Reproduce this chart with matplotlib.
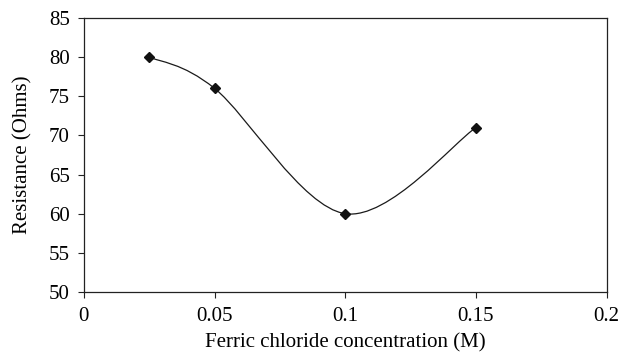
import numpy as np
import matplotlib
matplotlib.use('Agg')
import matplotlib.pyplot as plt
from matplotlib.path import Path
from matplotlib.patches import PathPatch

plt.rcParams['font.family'] = ['Liberation Serif', 'DejaVu Serif']

concentration = [0.025, 0.05, 0.1, 0.15]
resistance = [80, 76, 60, 71]
x_ticks = [0, 0.05, 0.1, 0.15, 0.2]
y_ticks = [50, 55, 60, 65, 70, 75, 80, 85]

fig = plt.figure(figsize=(6.21, 3.57), dpi=100)
ax = fig.add_axes([0.135, 0.182, 0.842, 0.768])

# smoothed line like a spreadsheet chart (Catmull-Rom as cubic Bezier)
pts = np.column_stack([concentration, resistance]).astype(float)
# work in axes units so smoothing follows screen shape
sx, sy = 0.2, 35.0
p = pts / [sx, sy]
verts = [p[0]]
codes = [Path.MOVETO]
n = len(p)
for i in range(n - 1):
    p0 = p[i - 1] if i > 0 else p[i]
    p1 = p[i]
    p2 = p[i + 1]
    p3 = p[i + 2] if i + 2 < n else p[i + 1]
    c1 = p1 + (p2 - p0) / 6
    c2 = p2 - (p3 - p1) / 6
    verts += [c1, c2, p2]
    codes += [Path.CURVE4] * 3
verts = np.array(verts) * [sx, sy]
ax.add_patch(PathPatch(Path(verts, codes), fill=False, edgecolor='#1a1a1a', lw=0.9))
ax.plot(concentration, resistance, linestyle='none', marker='D', markersize=5,
        color='#111111')

ax.set_xlim(0, 0.2)
ax.set_ylim(50, 85)
ax.set_xticks(x_ticks)
ax.set_xticklabels(['0', '0.05', '0.1', '0.15', '0.2'])
ax.set_yticks(y_ticks)
ax.tick_params(direction='out', length=4, width=0.8, labelsize=15, color='#222222')
ax.tick_params(axis='x', pad=7)
ax.tick_params(axis='y', pad=6)
for s in ax.spines.values():
    s.set_linewidth(0.9)
    s.set_color('#222222')
ax.set_xlabel('Ferric chloride concentration (M)', fontsize=15, labelpad=5)
ax.set_ylabel('Resistance (Ohms)', fontsize=15, labelpad=12)

fig.savefig('out.png', dpi=100)
